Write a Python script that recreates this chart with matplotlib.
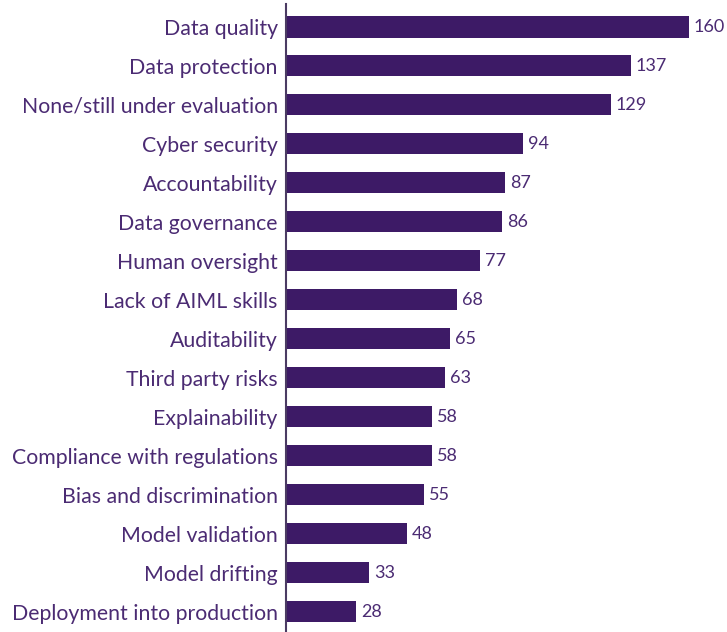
import matplotlib
matplotlib.use("Agg")
from matplotlib import pyplot as plt

categories = ["Data quality", "Data protection", "None/still under evaluation",
              "Cyber security", "Accountability", "Data governance",
              "Human oversight", "Lack of AIML skills", "Auditability",
              "Third party risks", "Explainability", "Compliance with regulations",
              "Bias and discrimination", "Model validation", "Model drifting",
              "Deployment into production"]
values = [160, 137, 129, 94, 87, 86, 77, 68, 65, 63, 58, 58, 55, 48, 33, 28]

bar_color = "#3d1a66"
text_color = "#4b2b73"

plt.rcParams['font.family'] = ['Lato', 'DejaVu Sans']

fig = plt.figure(figsize=(7.27, 6.32), dpi=100)
ax = fig.add_axes([286 / 727, 0, 1 - 286 / 727, 628 / 632])

pos = list(range(len(categories)))
ax.barh(pos, values, height=0.54, color=bar_color)
for p, v in zip(pos, values):
    ax.text(v + 2, p, str(v), va="center", ha="left", fontsize=13, color=text_color)

ax.set_yticks(pos)
ax.set_yticklabels(categories, fontsize=15.3, color=text_color)
ax.tick_params(axis="y", length=0, pad=6)
ax.set_xticks([])
ax.set_xlim(0, 441 / 2.516)
ax.set_ylim(15 + 20.5 / 39, -23 / 39)

for s in ["top", "right", "bottom"]:
    ax.spines[s].set_visible(False)
ax.spines["left"].set_color("#4b3b63")
ax.spines["left"].set_linewidth(1.5)

fig.savefig("out.png", dpi=100)
